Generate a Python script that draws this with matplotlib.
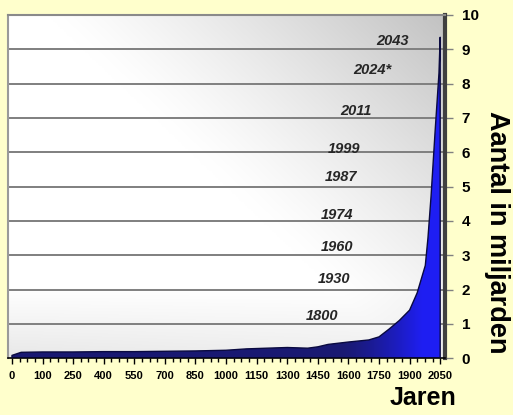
import numpy as np
import matplotlib
matplotlib.use('Agg')
import matplotlib.pyplot as plt
from matplotlib.ticker import MultipleLocator

# x-axis categories (equally spaced on the chart)
tick_years = [0, 100, 250, 400, 550, 700, 850, 1000, 1150, 1300,
              1450, 1600, 1750, 1900, 2050]

# world population curve (billions)
pop_years = [0, 30, 100, 250, 400, 550, 700, 850, 1000, 1100, 1200, 1300,
             1400, 1450, 1500, 1600, 1700, 1750, 1800, 1850, 1900, 1937,
             1977, 1990, 2005, 2025, 2044, 2068]
pop_values = [0.08, 0.17, 0.18, 0.18, 0.19, 0.19, 0.20, 0.21, 0.23, 0.27,
              0.29, 0.31, 0.29, 0.33, 0.40, 0.47, 0.53, 0.62, 0.85, 1.10,
              1.40, 1.90, 2.70, 3.50, 4.70, 6.60, 8.30, 9.35]

# year markers written in the plot
marker_labels = ['1800', '1930', '1960', '1974', '1987', '1999', '2011',
                 '2024*', '2043']
marker_levels = [1.23, 2.31, 3.23, 4.18, 5.28, 6.08, 7.20, 8.40, 9.25]
marker_pos = [10.15, 10.52, 10.62, 10.62, 10.75, 10.84, 11.25, 11.77, 12.43]

bg = '#ffffcc'
narrow = ['Liberation Sans Narrow', 'Liberation Sans', 'DejaVu Sans']
plain = ['Liberation Sans', 'DejaVu Sans']

fig = plt.figure(figsize=(5.13, 4.15), dpi=100, facecolor=bg)
ax = fig.add_axes([0.0156, 0.137, 0.852, 0.827])

xmin, xmax = -0.13, 14.16
ymin, ymax = 0, 10

# plot-area background: white to grey gradient
nx, ny = 300, 200
gx, gy = np.meshgrid(np.linspace(0, 1, nx), np.linspace(0, 1, ny))
d = gx * 0.55 + gy * 0.45
grey = (1 - 0.24 * np.clip((d - 0.5) / 0.5, 0, 1) ** 1.2
        - 0.09 * np.clip((0.2 - gy) / 0.2, 0, 1) * (1 - gx * 0.3))
ax.imshow(np.dstack([grey, grey, grey]), extent=[xmin, xmax, ymin, ymax],
          origin='lower', aspect='auto', zorder=0, interpolation='bilinear')

for level in range(1, 10):
    ax.axhline(level, color='#7f7f7f', lw=1.4, zorder=1)

# population fill with blue gradient
x_pos = np.interp(pop_years, tick_years, np.arange(len(tick_years)))
poly = ax.fill_between(x_pos, 0, pop_values, facecolor='none',
                       edgecolor='#0a0a40', lw=1.0, zorder=3)
bx, by = np.meshgrid(np.linspace(xmin, xmax, 400), np.linspace(ymin, ymax, 300))
t = np.clip((bx - 10.8) / 2.6, 0, 1) ** 1.3
t = t * (1 - 0.75 * np.clip((by - 7.0) / 2.5, 0, 1))
dark = np.array([0.10, 0.10, 0.45])
bright = np.array([0.12, 0.12, 0.95])
blue = dark + (bright - dark) * t[..., None]
im = ax.imshow(blue, extent=[xmin, xmax, ymin, ymax], origin='lower',
               aspect='auto', zorder=2, interpolation='bilinear')
im.set_clip_path(poly.get_paths()[0], transform=ax.transData)

for name, pos, level in zip(marker_labels, marker_pos, marker_levels):
    ax.text(pos, level, name, ha='center', va='center', fontsize=10.5,
            fontweight='bold', fontstyle='italic', color='#262626',
            family=plain, zorder=4)

ax.set_xlim(xmin, xmax)
ax.set_ylim(ymin, ymax)

ax.set_xticks(np.arange(len(tick_years)))
ax.set_xticklabels([str(y) for y in tick_years], fontsize=8,
                   fontweight='bold', family=plain)
ax.xaxis.set_minor_locator(MultipleLocator(0.25))
ax.tick_params(axis='x', which='both', direction='out', color='black',
               width=1, pad=5)
ax.tick_params(axis='x', which='major', length=4)
ax.tick_params(axis='x', which='minor', length=3)

ax.yaxis.tick_right()
ax.set_yticks(range(0, 11))
ax.set_yticklabels([str(v) for v in range(0, 11)], fontsize=11,
                   fontweight='bold', family=narrow)
ax.tick_params(axis='y', direction='out', color='#808080', length=6,
               width=1, pad=6)

ax.spines['right'].set_color('#404040')
ax.spines['right'].set_linewidth(3)
ax.spines['top'].set_color('#8a8a8a')
ax.spines['top'].set_linewidth(1.5)
ax.spines['left'].set_color('#9a9a9a')
ax.spines['left'].set_linewidth(1.5)
ax.spines['bottom'].set_color('black')
ax.spines['bottom'].set_linewidth(1.2)

fig.text(0.968, 0.441, 'Aantal in miljarden', rotation=270, ha='center',
         va='center', fontsize=19.5, fontweight='bold', family=narrow)
fig.text(0.825, 0.04, 'Jaren', ha='center', va='center', fontsize=18,
         fontweight='bold', family=narrow)

fig.savefig('out.png', dpi=100, facecolor=bg)
